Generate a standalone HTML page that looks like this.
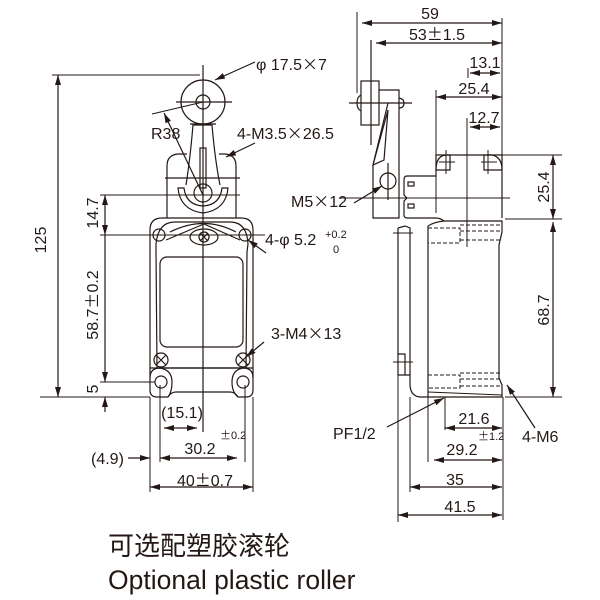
<!DOCTYPE html>
<html><head><meta charset="utf-8"><style>
html,body{margin:0;padding:0;background:#fff;width:600px;height:600px;overflow:hidden}
svg{display:block}
text{font-family:"Liberation Sans","Noto Sans CJK SC",sans-serif;fill:#231815}
.c{font-family:"Noto Sans CJK SC",sans-serif}
</style></head><body>
<svg width="600" height="600" viewBox="0 0 600 600" xmlns="http://www.w3.org/2000/svg">
<defs>
<marker id="a" viewBox="0 0 10 6" refX="10" refY="3" markerWidth="10" markerHeight="6" markerUnits="userSpaceOnUse" orient="auto-start-reverse"><path d="M0,0L10,3L0,6z" fill="#231815"/></marker>
</defs>
<g stroke="#231815" stroke-width="1.2" fill="none">
<path d="M150,230 Q150,218 162,218 L241,218 Q253,218 253,230 L253,390 Q253,397 246,397 L238,397 Q235,392 230,392 L176,392 Q171,392 168,397 L157,397 Q150,397 150,390 Z"/>
<path d="M156,244 Q158,222 175,222 L230,222 Q247,222 248,244 L247,252 L246,368 L157,368 L156,252Z"/>
<rect x="160" y="257" width="83" height="90" rx="7"/>
<line x1="150" y1="368" x2="253" y2="368"/>
<circle cx="159" cy="235" r="6"/><circle cx="245" cy="235" r="6"/>
<path d="M166,240 L204,224 L240,240"/>
<path d="M170,232 Q204,215 236,232"/>
<ellipse cx="204" cy="237" rx="14" ry="8"/>
<circle cx="204" cy="237" r="5"/><path d="M200,233L208,241M208,233L200,241"/>
<circle cx="161" cy="360" r="7"/><path d="M156,355L166,365M166,355L156,365"/>
<circle cx="243" cy="360" r="7"/><path d="M238,355L248,365M248,355L238,365"/>
<circle cx="161" cy="382" r="6"/><circle cx="243" cy="382" r="6"/>
<path d="M150,378 Q150,368 160,368 Q172,370 172,382 Q172,392 168,397"/>
<path d="M253,378 Q253,368 243,368 Q232,370 232,382 Q232,392 238,397"/>
<path d="M167,218 L167,166 Q167,155 178,154 L187,154 M219,154 L225,154 Q236,155 236,166 L236,218"/>
<line x1="165" y1="178" x2="240" y2="178"/>
<path d="M178,188 Q180,210 203,213 Q226,210 228,188 L222,188 Q220,205 203,206 Q186,205 184,188Z"/>
<circle cx="203" cy="193" r="9"/>
<path d="M186,185 Q190,160 193,125 L212,125 Q215,160 220,185"/>
<rect x="200" y="148" width="6" height="40"/>
<circle cx="203" cy="102" r="22"/><circle cx="203" cy="102" r="7"/>
<line x1="176" y1="102" x2="232" y2="102"/>
<line x1="190" y1="124" x2="216" y2="124"/>
<line x1="203" y1="65" x2="203" y2="432"/>
<line x1="52" y1="75" x2="200" y2="75" stroke-width="1"/>
<line x1="40" y1="397" x2="150" y2="397" stroke-width="1"/>
<line x1="58" y1="75" x2="58" y2="397" marker-start="url(#a)" marker-end="url(#a)"/>
<line x1="100" y1="195" x2="240" y2="195" stroke-width="1"/>
<line x1="100" y1="235" x2="265" y2="235" stroke-width="1"/>
<line x1="100" y1="382" x2="155" y2="382" stroke-width="1"/>
<line x1="105" y1="195" x2="105" y2="235" marker-start="url(#a)" marker-end="url(#a)"/>
<line x1="105" y1="235" x2="105" y2="382" marker-end="url(#a)"/>
<line x1="105" y1="412" x2="105" y2="397" marker-end="url(#a)"/>
<line x1="150" y1="397" x2="150" y2="492" stroke-width="1"/>
<line x1="160" y1="385" x2="160" y2="462" stroke-width="1"/>
<line x1="245" y1="385" x2="245" y2="462" stroke-width="1"/>
<line x1="253" y1="397" x2="253" y2="492" stroke-width="1"/>
<line x1="164" y1="428" x2="197" y2="428" marker-start="url(#a)" marker-end="url(#a)"/>
<line x1="160" y1="458" x2="237" y2="458" marker-start="url(#a)" marker-end="url(#a)"/>
<line x1="128" y1="458" x2="150" y2="458" marker-end="url(#a)"/>
<line x1="150" y1="487" x2="253" y2="487" marker-start="url(#a)" marker-end="url(#a)"/>
<line x1="255" y1="62" x2="215" y2="80" marker-end="url(#a)"/>
<line x1="152" y1="114" x2="203" y2="102" stroke-width="1"/>
<line x1="203" y1="195" x2="164" y2="113" marker-end="url(#a)"/>
<line x1="255" y1="143" x2="226" y2="157" marker-end="url(#a)"/>
<line x1="266" y1="253" x2="248" y2="240" marker-end="url(#a)"/>
<line x1="264" y1="342" x2="246" y2="357" marker-end="url(#a)"/>
<rect x="361" y="81" width="18" height="44"/>
<path d="M361,95 Q357,97 357,103 Q357,109 361,111"/>
<path d="M399,98 Q404,99 404,103 Q404,108 399,108"/>
<line x1="349" y1="103" x2="412" y2="103"/>
<line x1="371" y1="40" x2="371" y2="145"/>
<path d="M379,90 L399,90 L399,218 L373,218 L373,165 L388,103"/>
<path d="M373,165 L388,110 L384,160 Z"/>
<circle cx="388" cy="181" r="8"/>
<line x1="388" y1="163" x2="388" y2="200"/>
<path d="M407,176 L436,176 L436,155 L502,155 M407,176 Q404,176 404,180 L404,195 L407,198 L404,201 L404,215 Q404,218 407,218 L436,218 Q440,218 444,221"/>
<rect x="408" y="182" width="6" height="4"/><rect x="408" y="204" width="6" height="4"/>
<line x1="340" y1="198" x2="510" y2="198" stroke-width="1"/>
<path d="M436,170 Q436,155 447,155 L450,155 L450,170Z"/>
<path d="M484,170 L484,155 L492,155 Q502,157 502,170Z"/>
<path d="M446,150L446,174M439,162L455,162M488,150L488,174M481,162L497,162" stroke-width="1"/>
<path d="M502,155 L502,218"/>
<path d="M428,226 L428,397 M428,226 Q434,222 444,221 L502,221 L502,232 L499,245 L499,378 L502,385 L502,397 L420,397 Q410,396 410,384 L410,375 L398,375 L398,354 L405,354 L405,375"/>
<path d="M398,228 L405,226 L410,228 L410,375"/>
<path d="M398,228 L398,354" />
<line x1="393" y1="233" x2="413" y2="233" stroke-width="1"/>
<line x1="393" y1="362" x2="413" y2="362" stroke-width="1"/>
<g stroke-dasharray="4,2" stroke-width="1">
<path d="M428,228 L460,228 L460,243 L428,243 M460,225 L502,225 M460,231 L502,231 M460,240 L502,240"/>
<path d="M428,375 L460,375 L460,388 L428,388 M460,373 L502,373 M460,379 L502,379 M460,386 L502,386"/>
</g>
<line x1="428" y1="392" x2="502" y2="395" stroke-width="1"/>
<line x1="357" y1="12" x2="357" y2="93" stroke-width="1"/>
<line x1="502" y1="18" x2="502" y2="155" stroke-width="1"/>
<line x1="362" y1="23" x2="502" y2="23" marker-start="url(#a)" marker-end="url(#a)"/>
<line x1="376" y1="43" x2="502" y2="43" marker-start="url(#a)" marker-end="url(#a)"/>
<line x1="468" y1="68" x2="468" y2="78" stroke-width="1"/>
<line x1="470" y1="73" x2="500" y2="73" marker-start="url(#a)" marker-end="url(#a)"/>
<line x1="436" y1="90" x2="436" y2="213" stroke-width="1"/>
<line x1="436" y1="97" x2="502" y2="97" marker-start="url(#a)" marker-end="url(#a)"/>
<line x1="467" y1="118" x2="467" y2="247" stroke-width="1"/>
<line x1="470" y1="127" x2="500" y2="127" marker-start="url(#a)" marker-end="url(#a)"/>
<line x1="502" y1="155" x2="562" y2="155" stroke-width="1"/>
<line x1="505" y1="219" x2="562" y2="219" stroke-width="1"/>
<line x1="505" y1="397" x2="562" y2="397" stroke-width="1"/>
<line x1="553" y1="155" x2="553" y2="219" marker-start="url(#a)" marker-end="url(#a)"/>
<line x1="553" y1="222" x2="553" y2="397" marker-start="url(#a)" marker-end="url(#a)"/>
<line x1="398" y1="375" x2="398" y2="522" stroke-width="1"/>
<line x1="410" y1="397" x2="410" y2="492" stroke-width="1"/>
<line x1="428" y1="397" x2="428" y2="462" stroke-width="1"/>
<line x1="445" y1="397" x2="445" y2="430" stroke-width="1"/>
<line x1="503" y1="397" x2="503" y2="520" stroke-width="1"/>
<line x1="445" y1="428" x2="502" y2="428" marker-start="url(#a)" marker-end="url(#a)"/>
<line x1="434" y1="460" x2="502" y2="460" marker-start="url(#a)" marker-end="url(#a)"/>
<line x1="410" y1="487" x2="502" y2="487" marker-start="url(#a)" marker-end="url(#a)"/>
<line x1="398" y1="515" x2="502" y2="515" marker-start="url(#a)" marker-end="url(#a)"/>
<line x1="354" y1="203" x2="382" y2="186" marker-end="url(#a)"/>
<line x1="387" y1="427" x2="444" y2="398" marker-end="url(#a)"/>
<line x1="535" y1="428" x2="507" y2="385" marker-end="url(#a)"/>
</g>
<g font-size="16">
<text x="256" y="70">φ 17.5<tspan class="c">×</tspan>7</text>
<text x="151" y="139">R38</text>
<text x="237" y="139">4-M3.5<tspan class="c">×</tspan>26.5</text>
<text x="265" y="245">4-φ 5.2</text>
<text x="325" y="238" font-size="11">+0.2</text>
<text x="333" y="253" font-size="11">0</text>
<text x="271" y="339">3-M4<tspan class="c">×</tspan>13</text>
<text x="182" y="418" text-anchor="middle">(15.1)</text>
<text x="200" y="454" text-anchor="middle">30.2</text>
<text x="220" y="439" font-size="11"><tspan class="c">±</tspan>0.2</text>
<text x="91" y="464">(4.9)</text>
<text x="205" y="486" text-anchor="middle">40<tspan class="c">±</tspan>0.7</text>
<text transform="translate(46,240) rotate(-90)" text-anchor="middle">125</text>
<text transform="translate(98,213) rotate(-90)" text-anchor="middle">14.7</text>
<text transform="translate(98,305) rotate(-90)" text-anchor="middle">58.7<tspan class="c">±</tspan>0.2</text>
<text transform="translate(98,389) rotate(-90)" text-anchor="middle">5</text>
<text x="430" y="19" text-anchor="middle">59</text>
<text x="437" y="40" text-anchor="middle">53<tspan class="c">±</tspan>1.5</text>
<text x="485" y="68" text-anchor="middle">13.1</text>
<text x="474" y="94" text-anchor="middle">25.4</text>
<text x="484" y="123" text-anchor="middle">12.7</text>
<text x="291" y="207">M5<tspan class="c">×</tspan>12</text>
<text transform="translate(549,187) rotate(-90)" text-anchor="middle">25.4</text>
<text transform="translate(549,310) rotate(-90)" text-anchor="middle">68.7</text>
<text x="333" y="439">PF1/2</text>
<text x="522" y="442">4-M6</text>
<text x="474" y="424" text-anchor="middle">21.6</text>
<text x="462" y="455" text-anchor="middle">29.2</text>
<text x="478" y="440" font-size="11"><tspan class="c">±</tspan>1.2</text>
<text x="455" y="485" text-anchor="middle">35</text>
<text x="460" y="512" text-anchor="middle">41.5</text>
</g>
<text x="108" y="555" font-size="26">可选配塑胶滚轮</text>
<text x="108" y="589" font-size="26.5">Optional plastic roller</text>
</svg>
</body></html>
